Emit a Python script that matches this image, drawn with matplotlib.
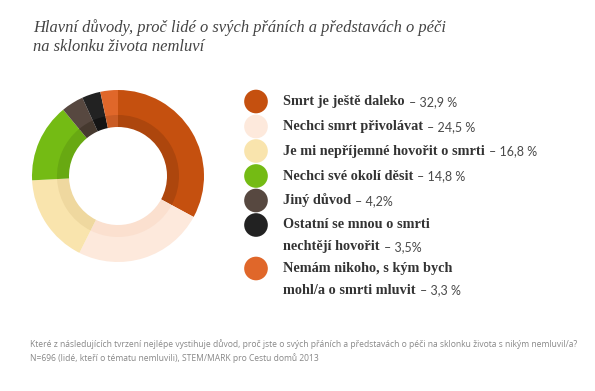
import matplotlib
matplotlib.use("Agg")
import matplotlib.pyplot as plt

# ---------------- data ----------------
labels = ["Smrt je ještě daleko", "Nechci smrt přivolávat",
          "Je mi nepříjemné hovořit o smrti", "Nechci své okolí děsit",
          "Jiný důvod", "Ostatní se mnou o smrti\nnechtějí hovořit",
          "Nemám nikoho, s kým bych\nmohl/a o smrti mluvit"]
values = [32.9, 24.5, 16.8, 14.8, 4.2, 3.5, 3.3]
value_txt = ["32,9 %", "24,5 %", "16,8 %", "14,8 %", "4,2%", "3,5%", "3,3 %"]
colors = ["#c5500f", "#fde9dc", "#f9e4ad", "#74bb14", "#574840",
          "#222222", "#e0672a"]
inner_colors = ["#ad460d", "#fbe0cf", "#efd89f", "#68a912", "#46392f",
                "#141414", "#c95c25"]

TITLE = "Hlavní důvody, proč lidé o svých přáních a představách o péči\nna sklonku života nemluví"
NOTE = ("Které z následujících tvrzení nejlépe vystihuje důvod, proč jste o svých "
        "přáních a představách o péči na sklonku života s nikým nemluvil/a?\n"
        "N=696 (lidé, kteří o tématu nemluvili), STEM/MARK pro Cestu domů 2013")

W, H = 595, 391
fig = plt.figure(figsize=(W / 100, H / 100), dpi=100)
fig.patch.set_facecolor("white")

# donut, center (118, 176) px, outer r 86
R = 86
ax = fig.add_axes([(118 - R) / W, 1 - (176 + R) / H, 2 * R / W, 2 * R / H])
ax.pie(values, colors=colors, startangle=90, counterclock=False, radius=1.0,
       wedgeprops=dict(width=26 / R, linewidth=0))
ax.pie(values, colors=inner_colors, startangle=90,
       counterclock=False, radius=61 / R,
       wedgeprops=dict(width=12 / R, linewidth=0))
ax.set_xlim(-1, 1)
ax.set_ylim(-1, 1)
ax.set_aspect("equal")
ax.axis("off")

fig.text(33 / W, 1 - 19 / H, TITLE, fontsize=11.9, style="italic",
         family="Liberation Serif", color="#444444", va="top",
         linespacing=1.25)

# legend
rows_y = [101.5, 126.5, 151, 176, 200.5, 225, 268.5]
lax = fig.add_axes([0, 0, 1, 1], facecolor="none")
lax.set_xlim(0, W)
lax.set_ylim(H, 0)
lax.axis("off")
fig.canvas.draw()
renderer = fig.canvas.get_renderer()
for i, (lab, v, c) in enumerate(zip(labels, value_txt, colors)):
    y = rows_y[i]
    lax.scatter([256], [y], s=290, color=c, edgecolor="none")
    lines = lab.split("\n")
    for j, ln in enumerate(lines):
        ty = y + j * 21.5
        t = lax.text(283, ty, ln, fontsize=10.3, fontweight="bold",
                     family="Liberation Serif", color="#333333", va="center")
        if j == len(lines) - 1:
            bb = t.get_window_extent(renderer)
            lax.text(bb.x1 + 4, ty + 0.5, "– " + v, fontsize=9,
                     family="Lato", color="#4a4a4a", va="center")

fig.text(30 / W, 1 - 339 / H, NOTE, fontsize=6.15, family="Open Sans",
         color="#888888", va="top", linespacing=1.5)

fig.savefig("out.png", dpi=100)
